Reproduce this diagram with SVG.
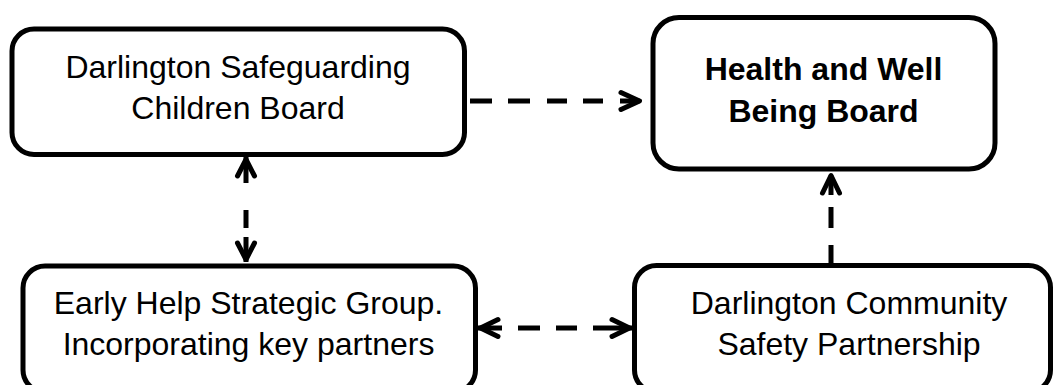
<svg xmlns="http://www.w3.org/2000/svg" width="1054" height="385" viewBox="0 0 1054 385">
<style>
.box{fill:#fff;stroke:#000;stroke-width:5}
.t{font-family:"Liberation Sans",Arial,sans-serif;font-size:32px;fill:#000;text-anchor:middle}
.b{font-weight:bold}
.dash{fill:none;stroke:#000;stroke-width:5;stroke-linecap:butt}
.head{fill:none;stroke:#000;stroke-width:5;stroke-linecap:round;stroke-linejoin:round}
</style>
<rect width="1054" height="385" fill="#fff"/>
<g id="connectors">
  <g id="c-dscb-hwb">
    <path class="dash" d="M470 101 H639.5" stroke-dasharray="22 16 22 17 20 16 20 17 20"/>
    <path class="head" d="M621 92.5 L639.5 101 L621 109.5"/>
  </g>
  <g id="c-dscb-ehsg">
    <path class="dash" d="M246 157 V262" stroke-dasharray="26 27 18 9 25"/>
    <path class="head" d="M237.5 176 L246 159.5 L254.5 176"/>
    <path class="head" d="M237.5 243 L246 259.5 L254.5 243"/>
  </g>
  <g id="c-ehsg-dcsp">
    <path class="dash" d="M478 328 H632" stroke-dasharray="24 16 22 16 21 16 39"/>
    <path class="head" d="M498 319.5 L480.5 328 L498 336.5"/>
    <path class="head" d="M612 319.5 L629.5 328 L612 336.5"/>
  </g>
  <g id="c-dcsp-hwb">
    <path class="dash" d="M831 265 V175.5" stroke-dasharray="20 17 21 12 22"/>
    <path class="head" d="M822.5 193 L831 175.5 L839.5 193"/>
  </g>
</g>
<g id="dscb">
  <rect class="box" x="12" y="29" width="452.5" height="125.5" rx="22"/>
  <text class="t" x="238" y="77.5">Darlington Safeguarding</text>
  <text class="t" x="238" y="118.5">Children Board</text>
</g>
<g id="hwb">
  <rect class="box" x="653" y="17.5" width="342" height="151.5" rx="26"/>
  <text class="t b" x="823.5" y="80">Health and Well</text>
  <text class="t b" x="823.5" y="122">Being Board</text>
</g>
<g id="ehsg">
  <rect class="box" x="23" y="266" width="452.5" height="126" rx="22"/>
  <text class="t" x="248.5" y="313.5">Early Help Strategic Group.</text>
  <text class="t" x="248.5" y="355">Incorporating key partners</text>
</g>
<g id="dcsp">
  <rect class="box" x="634.5" y="265.5" width="416" height="126.5" rx="22"/>
  <text class="t" x="849" y="313.5">Darlington Community</text>
  <text class="t" x="849" y="355">Safety Partnership</text>
</g>
</svg>
